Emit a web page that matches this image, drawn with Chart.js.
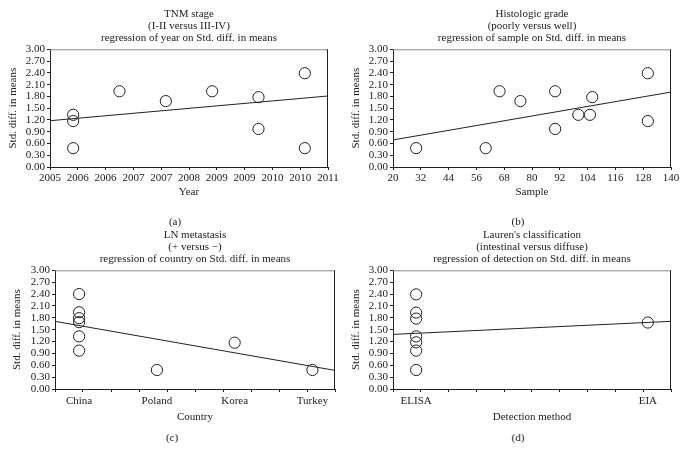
<!DOCTYPE html>
<html><head><meta charset="utf-8">
<script src="https://cdn.jsdelivr.net/npm/chart.js@4"></script>
<style>
body{margin:0;background:#fff;width:686px;height:450px;position:relative;overflow:hidden;}
.p{position:absolute;width:343px;height:205px;}
.cap{position:absolute;width:40px;height:14px;line-height:14px;text-align:center;font:11px "Liberation Serif",serif;color:#222;white-space:nowrap;}
</style></head><body>
<div class="p" style="left:0;top:0"><canvas id="ca" width="343" height="205"></canvas></div>
<div class="p" style="left:343px;top:0"><canvas id="cb" width="343" height="205"></canvas></div>
<div class="p" style="left:0;top:221px"><canvas id="cc" width="343" height="205"></canvas></div>
<div class="p" style="left:343px;top:221px"><canvas id="cd" width="343" height="205"></canvas></div>
<div class="cap" style="left:155px;top:215px">(a)</div>
<div class="cap" style="left:498px;top:215px">(b)</div>
<div class="cap" style="left:152px;top:431px">(c)</div>
<div class="cap" style="left:498px;top:431px">(d)</div>
<script>
// ---- shared y axis ----
const yTicks = [0, 0.3, 0.6, 0.9, 1.2, 1.5, 1.8, 2.1, 2.4, 2.7, 3.0];

// ---- (a) TNM stage ----
const yearTicks = [2005, 2005.6, 2006.2, 2006.8, 2007.4, 2008, 2008.6, 2009.2, 2009.8, 2010.4, 2011];
const yearTickLabels = ['2005','2006','2006','2007','2007','2008','2009','2009','2010','2010','2011'];
const tnmYear = [2005.5, 2005.5, 2005.5, 2006.5, 2007.5, 2008.5, 2009.5, 2009.5, 2010.5, 2010.5];
const tnmSMD  = [1.33, 1.17, 0.48, 1.93, 1.68, 1.93, 1.78, 0.97, 2.39, 0.48];
const tnmFitX = [2005, 2011];
const tnmFitY = [1.18, 1.81];

// ---- (b) Histologic grade ----
const sampleTicks = [20, 32, 44, 56, 68, 80, 92, 104, 116, 128, 140];
const gradeSample = [30, 60, 66, 75, 90, 90, 100, 105, 106, 130, 130];
const gradeSMD    = [0.48, 0.48, 1.93, 1.68, 1.93, 0.97, 1.33, 1.33, 1.78, 2.39, 1.17];
const gradeFitX = [20, 140];
const gradeFitY = [0.69, 1.91];

// ---- (c) LN metastasis ----
const countries = ['China', 'Poland', 'Korea', 'Turkey'];
const lnCountry = [1, 1, 1, 1, 1, 1, 2, 3, 4];
const lnSMD     = [2.40, 1.94, 1.79, 1.69, 1.33, 0.97, 0.48, 1.17, 0.48];
const lnRange = [0.69, 4.29];
const lnFitY  = [1.71, 0.47];

// ---- (d) Lauren's classification ----
const methods = ['ELISA', 'EIA'];
const laurenMethod = [1, 1, 1, 1, 1, 1, 1, 2];
const laurenSMD    = [2.39, 1.93, 1.78, 1.33, 1.18, 0.97, 0.48, 1.68];
const laurenRange = [0.9, 2.1];
const laurenFitY  = [1.38, 1.71];

const INK = '#222';
const FONT = {family: '"Liberation Serif", serif', size: 11};

const framePlugin = {
  id: 'frame',
  afterDraw(chart) {
    const {ctx, chartArea: a} = chart;
    ctx.save();
    ctx.lineWidth = 1;
    ctx.strokeStyle = '#8a8a8a';
    ctx.beginPath(); ctx.moveTo(a.left, a.top + 0.5); ctx.lineTo(a.right, a.top + 0.5); ctx.stroke();
    ctx.strokeStyle = INK;
    ctx.beginPath(); ctx.moveTo(a.right - 0.5, a.top); ctx.lineTo(a.right - 0.5, a.bottom); ctx.stroke();
    ctx.restore();
  }
};

function makePanel(id, o) {
  const pts = o.xs.map((x, i) => ({x, y: o.ys[i]}));
  const fit = o.fitX.map((x, i) => ({x, y: o.fitY[i]}));
  const nMarks = o.markVals ? o.markVals.length : 0;
  const tickVals = o.markVals ? o.markVals.concat(o.labelVals) : o.labelVals;
  const tickLabs = o.markVals ? o.markVals.map(() => '').concat(o.labels) : o.labels;
  new Chart(document.getElementById(id), {
    type: 'scatter',
    data: {datasets: [
      {data: pts, pointStyle: 'circle', pointRadius: 5.6, pointBorderWidth: 1,
       borderColor: INK, backgroundColor: 'rgba(0,0,0,0)', showLine: false},
      {type: 'line', data: fit, borderColor: INK, borderWidth: 1, pointRadius: 0, fill: false, tension: 0}
    ]},
    plugins: [framePlugin],
    options: {
      responsive: false, animation: false, devicePixelRatio: 1,
      layout: {padding: {left: 0, right: o.rightPad, top: 0, bottom: o.bottomPad}},
      plugins: {
        legend: {display: false}, tooltip: {enabled: false},
        title: {display: true, text: o.title, fullSize: false, color: INK,
                font: {family: FONT.family, size: 11, weight: 'normal', lineHeight: 1.1},
                padding: {top: 8, bottom: 5}}
      },
      scales: {
        x: {
          type: 'linear', min: o.xMin, max: o.xMax,
          afterBuildTicks: s => { s.ticks = tickVals.map(v => ({value: v})); },
          afterFit: s => { s.height = o.xAxisH; },
          ticks: {autoSkip: false, maxRotation: 0, minRotation: 0, padding: o.xTickPad,
                  color: INK, font: FONT, callback: (v, i) => tickLabs[i]},
          grid: {drawOnChartArea: false, drawTicks: true, tickLength: 3,
                 tickColor: ctx => (o.markVals && ctx.index >= nMarks) ? 'rgba(0,0,0,0)' : INK},
          border: {display: true, color: INK, width: 1},
          title: {display: true, text: o.xTitle, color: INK, font: FONT, padding: {top: 0, bottom: o.xTitlePad}}
        },
        y: {
          min: 0, max: 3,
          afterBuildTicks: s => { s.ticks = yTicks.map(v => ({value: v})); },
          afterFit: s => { s.width = o.yAxisW; },
          ticks: {autoSkip: false, padding: 2, color: INK, font: FONT, callback: v => v.toFixed(2)},
          grid: {drawOnChartArea: false, drawTicks: true, tickLength: 3, tickColor: INK},
          border: {display: true, color: INK, width: 1},
          title: {display: true, text: 'Std. diff. in means', color: INK, font: FONT, padding: {top: o.yTitlePad, bottom: 0}}
        }
      }
    }
  });
}

function spread(r) { const out = []; for (let i = 0; i <= 10; i++) out.push(r[0] + (r[1] - r[0]) * i / 10); return out; }

makePanel('ca', {xs: tnmYear, ys: tnmSMD, fitX: tnmFitX, fitY: tnmFitY,
  xMin: 2005, xMax: 2011, labelVals: yearTicks, labels: yearTickLabels,
  title: ['TNM stage', '(I-II versus III-IV)', 'regression of year on Std. diff. in means'],
  xTitle: 'Year', rightPad: 15, bottomPad: 3, xAxisH: 35, xTickPad: 2, xTitlePad: 3.4, yAxisW: 50, yTitlePad: 6.4});

makePanel('cb', {xs: gradeSample, ys: gradeSMD, fitX: gradeFitX, fitY: gradeFitY,
  xMin: 20, xMax: 140, labelVals: sampleTicks, labels: sampleTicks.map(String),
  title: ['Histologic grade', '(poorly versus well)', 'regression of sample on Std. diff. in means'],
  xTitle: 'Sample', rightPad: 15, bottomPad: 3, xAxisH: 35, xTickPad: 2, xTitlePad: 3.4, yAxisW: 50, yTitlePad: 6.4});

makePanel('cc', {xs: lnCountry, ys: lnSMD, fitX: lnRange, fitY: lnFitY,
  xMin: lnRange[0], xMax: lnRange[1], markVals: spread(lnRange), labelVals: [1, 2, 3, 4], labels: countries,
  title: ['LN metastasis', '(+ versus \u2212)', 'regression of country on Std. diff. in means'],
  xTitle: 'Country', rightPad: 8, bottomPad: 0, xAxisH: 37, xTickPad: 3, xTitlePad: 2.4, yAxisW: 55, yTitlePad: 11});

makePanel('cd', {xs: laurenMethod, ys: laurenSMD, fitX: laurenRange, fitY: laurenFitY,
  xMin: laurenRange[0], xMax: laurenRange[1], markVals: spread(laurenRange), labelVals: [1, 2], labels: methods,
  title: ["Lauren's classification", '(intestinal versus diffuse)', 'regression of detection on Std. diff. in means'],
  xTitle: 'Detection method', rightPad: 15, bottomPad: 0, xAxisH: 37, xTickPad: 3, xTitlePad: 2.4, yAxisW: 50, yTitlePad: 6.4});
</script>
</body></html>
